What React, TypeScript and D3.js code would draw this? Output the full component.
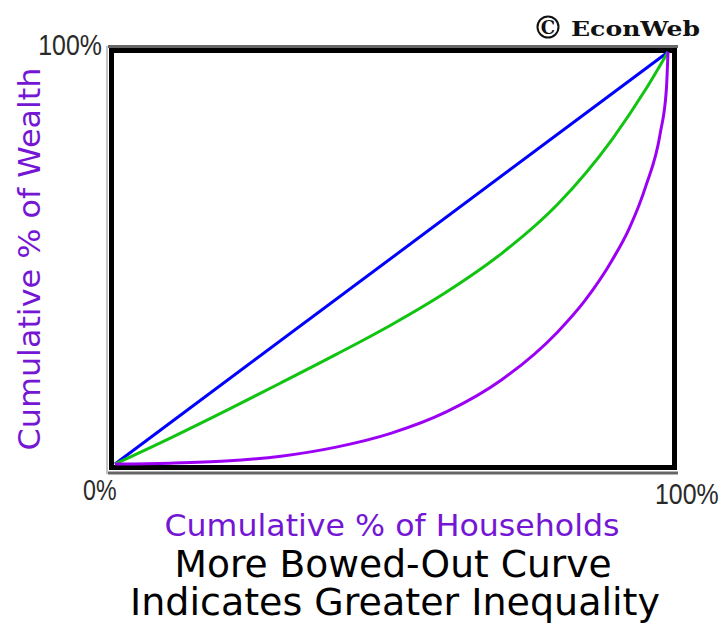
import React from "react";
import * as d3 from "d3";

// Cumulative % of households (x) vs cumulative % of wealth (y), as fractions
const equalityX = [0, 1];
const equalityY = [0, 1];
const moderateX = [0, 0.1, 0.2, 0.3, 0.4, 0.5, 0.6, 0.7, 0.8, 0.9, 0.96, 1];
const moderateY = [0, 0.063, 0.129, 0.197, 0.266, 0.338, 0.418, 0.512, 0.63, 0.79, 0.91, 1];
const unequalX = [0, 0.1, 0.2, 0.3, 0.4, 0.5, 0.6, 0.7, 0.8, 0.85, 0.9, 0.93, 0.96, 0.986, 0.997, 1];
const unequalY = [0, 0.002, 0.007, 0.019, 0.041, 0.075, 0.127, 0.205, 0.32, 0.397, 0.497, 0.572, 0.675, 0.803, 0.908, 1];
const xTickLabels = ["0%", "100%"];
const yTickLabels = ["100%"];

const W = 725;
const H = 626;

export default function App() {
  const x = d3.scaleLinear().domain([0, 1]).range([115, 668]);
  const y = d3.scaleLinear().domain([0, 1]).range([464, 52]);
  const line = d3
    .line<[number, number]>()
    .x((d) => x(d[0]))
    .y((d) => y(d[1]))
    .curve(d3.curveMonotoneX);
  const zip = (a: number[], b: number[]) => a.map((v, i) => [v, b[i]] as [number, number]);

  const series = [
    { pts: zip(equalityX, equalityY), color: "#0000ff" },
    { pts: zip(moderateX, moderateY), color: "#11c411" },
    { pts: zip(unequalX, unequalY), color: "#9b00f5" },
  ];

  const purple = "#7416d4";
  const tickFont = "Liberation Sans, Arial, sans-serif";
  return (
    <svg
      width={W}
      height={H}
      style={{ position: "absolute", left: 0, top: 0, background: "#fff" }}
      fontFamily="DejaVu Sans, Verdana, sans-serif"
    >
      <rect width={W} height={H} fill="#fff" />
      {/* frame */}
      <line x1={107} x2={107} y1={46} y2={474} stroke="#c4c4c4" strokeWidth={2} />
      <line x1={108} x2={678} y1={46.5} y2={46.5} stroke="#666" strokeWidth={3} />
      <line x1={108} x2={678} y1={473} y2={473} stroke="#666" strokeWidth={3} />
      <rect x={111.5} y={50.5} width={563} height={417} fill="none" stroke="#000" strokeWidth={5} />

      {series.map((s, i) => (
        <path key={i} d={line(s.pts) || ""} fill="none" stroke={s.color} strokeWidth={3} />
      ))}

      {/* tick labels */}
      <g transform="translate(102,55) scale(0.86,1)">
        <text textAnchor="end" fontFamily={tickFont} fontSize={29} fill="#2a2a2a">
          {yTickLabels[0]}
        </text>
      </g>
      <g transform="translate(83,500) scale(0.8,1)">
        <text fontFamily={tickFont} fontSize={29} fill="#2a2a2a">
          {xTickLabels[0]}
        </text>
      </g>
      <g transform="translate(655,504) scale(0.86,1)">
        <text fontFamily={tickFont} fontSize={29} fill="#2a2a2a">
          {xTickLabels[1]}
        </text>
      </g>

      {/* copyright */}
      <circle cx={548} cy={27} r={10.5} fill="none" stroke="#111" strokeWidth={2} />
      <text x={548} y={34} textAnchor="middle" fontFamily="DejaVu Serif, serif" fontWeight="bold" fontSize={18} fill="#111">
        C
      </text>
      <text x={571} y={36} fontFamily="DejaVu Serif, Liberation Serif, serif" fontWeight="bold" fontSize={20} fill="#111" textLength={129} lengthAdjust="spacingAndGlyphs">
        EconWeb
      </text>

      {/* axis titles */}
      <text
        transform="translate(40,259) rotate(-90)"
        textAnchor="middle"
        fontSize={31}
        fill={purple}
        textLength={383}
        lengthAdjust="spacingAndGlyphs"
      >
        Cumulative % of Wealth
      </text>
      <text x={392} y={536} textAnchor="middle" fontSize={31} fill={purple} textLength={455} lengthAdjust="spacingAndGlyphs">
        Cumulative % of Households
      </text>
      <text x={393} y={577} textAnchor="middle" fontSize={37} fill="#000" textLength={437} lengthAdjust="spacingAndGlyphs">
        More Bowed-Out Curve
      </text>
      <text x={395} y={615} textAnchor="middle" fontSize={37} fill="#000" textLength={530} lengthAdjust="spacingAndGlyphs">
        Indicates Greater Inequality
      </text>
    </svg>
  );
}
